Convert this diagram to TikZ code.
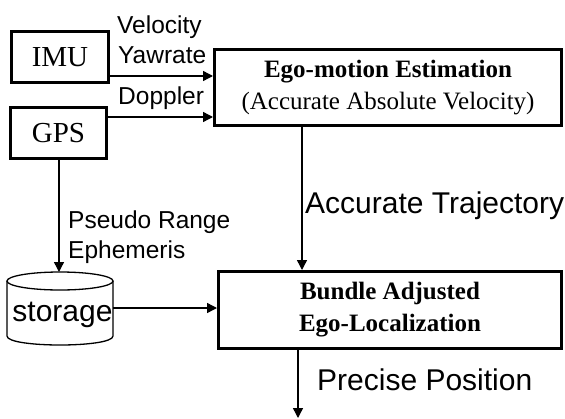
\documentclass[tikz,border=0pt]{standalone}
\usepackage{fontspec}
\setmainfont{Liberation Serif}
\newfontfamily\arialf{Liberation Sans}
\usetikzlibrary{arrows.meta}
\begin{document}
\begin{tikzpicture}[x=1pt,y=-1pt,
  box/.style={draw, line width=3pt, inner sep=0pt, align=center},
  arr/.style={line width=1.4pt, -{Triangle[length=10pt,width=10pt]}},
  lbl/.style={font=\arialf\fontsize{24.5}{30}\selectfont, anchor=base west, inner sep=0pt},
  biglbl/.style={font=\arialf\fontsize{30}{36}\selectfont, anchor=base west, inner sep=0pt}]
\useasboundingbox (0,0) rectangle (565,418);
% boxes
\node[box, minimum width=97pt, minimum height=51pt, font=\fontsize{29}{32}\selectfont] (imu) at (60,57) {IMU};
\node[box, minimum width=96pt, minimum height=51pt, font=\fontsize{29}{32}\selectfont] (gps) at (58.5,133) {GPS};
\node[box, minimum width=347pt, minimum height=76pt, font=\fontsize{25}{32}\selectfont] (ego) at (388,87.5)
  {\textbf{Ego-motion Estimation}\\(Accurate Absolute Velocity)};
\node[box, minimum width=343pt, minimum height=77pt, font=\fontsize{25}{32}\selectfont\bfseries] (bundle) at (390,310)
  {Bundle Adjusted\\Ego-Localization};
% storage cylinder
\draw[line width=1.3pt] (7,281) -- (7,336) .. controls (7,348) and (113,348) .. (113,336) -- (113,281);
\draw[line width=1.3pt] (60,281) ellipse [x radius=53, y radius=9];
\node[font=\arialf\fontsize{30}{36}\selectfont, anchor=base, inner sep=0pt] (sto) at (62.5,321) {storage};
\coordinate (stoT) at (59,272);
\coordinate (stoR) at (113,308);
\coordinate (out) at (298,418);
% connectors
\draw[arr] (imu.east |- 0,76) -- (ego.west |- 0,76);
\draw[arr] (gps.east |- 0,117) -- (ego.west |- 0,117);
\draw[arr] (gps.south -| 59,0) -- (stoT);
\draw[arr] (ego.south -| 302,0) -- (bundle.north -| 302,0);
\draw[arr] (stoR) -- (bundle.west |- stoR);
\draw[arr] (bundle.south -| out) -- (out);
% labels
\node[lbl] (lv) at (117,33) {Velocity};
\node[lbl] (ly) at (118,63) {Yawrate};
\node[lbl] (ld) at (118,104) {Doppler};
\node[lbl] (lp) at (68,228) {Pseudo Range};
\node[lbl] (le) at (68,258) {Ephemeris};
\node[biglbl] (lt) at (305,213) {Accurate Trajectory};
\node[biglbl] (lpp) at (317,390) {Precise Position};
\end{tikzpicture}
\end{document}
